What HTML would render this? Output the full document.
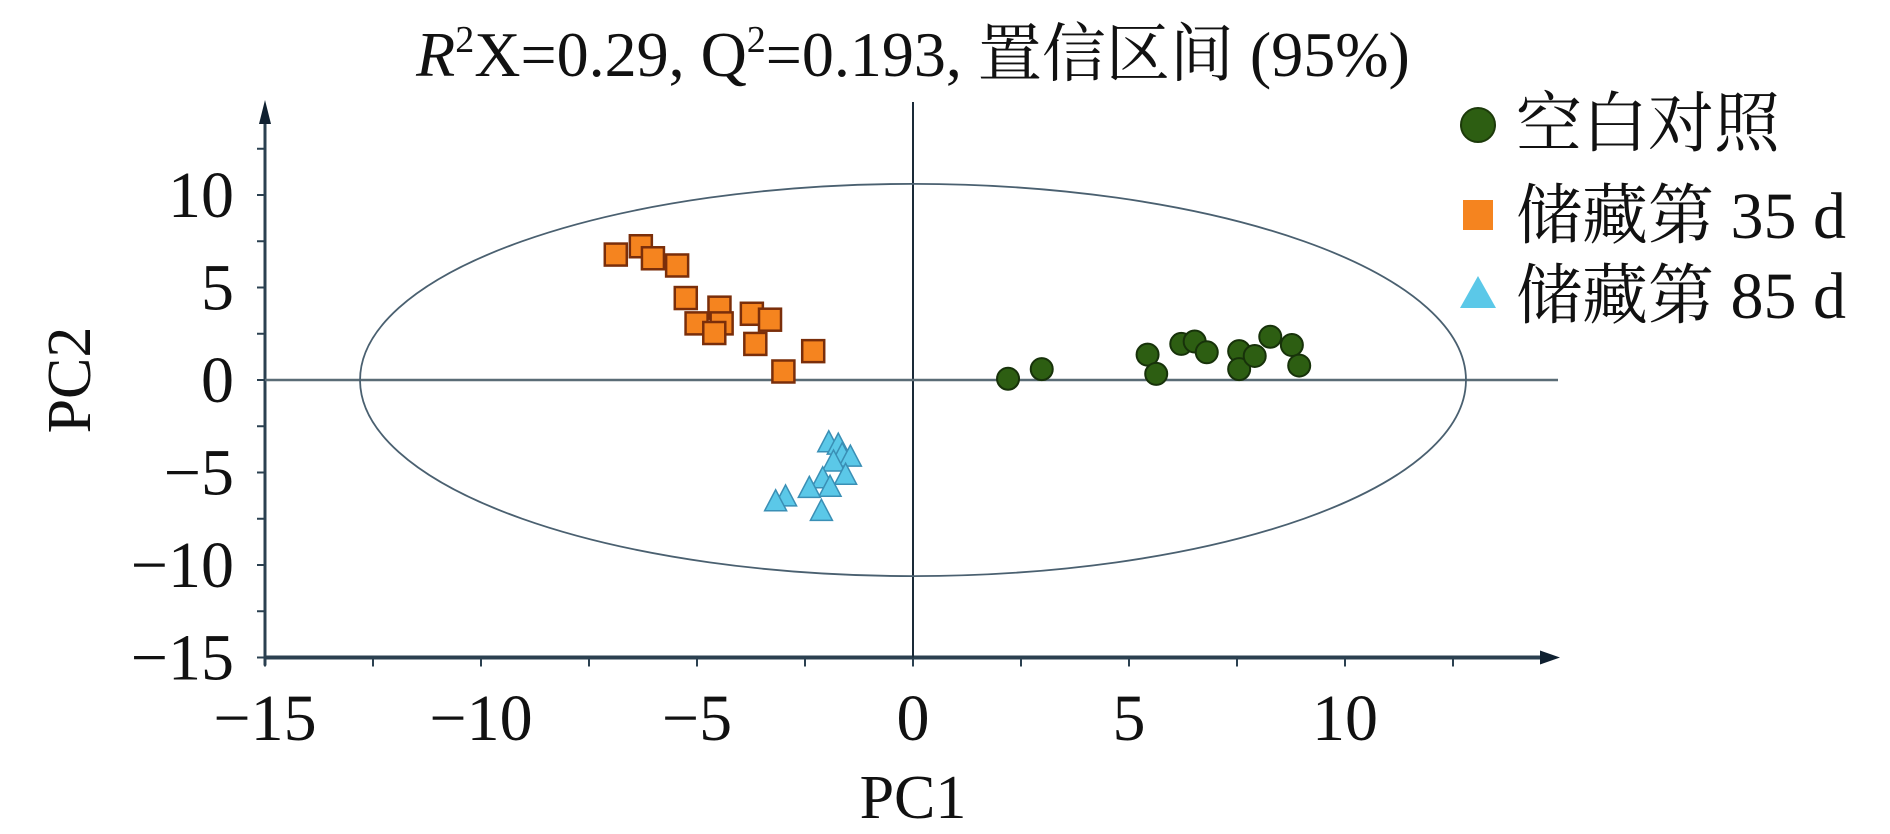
<!DOCTYPE html>
<html><head><meta charset="utf-8"><style>
html,body{margin:0;padding:0;background:#fff;}
svg{display:block;font-family:"Liberation Serif","Noto Serif CJK SC",serif;}
</style></head><body>
<svg id="chart" width="1890" height="834" viewBox="0 0 1890 834" xmlns="http://www.w3.org/2000/svg">
<text x="913" y="76" font-size="64" text-anchor="middle" fill="#111"><tspan font-style="italic">R</tspan><tspan font-size="38" dy="-24">2</tspan><tspan dy="24">X=0.29, Q</tspan><tspan font-size="38" dy="-24">2</tspan><tspan dy="24">=0.193, 置信区间 (95%)</tspan></text>
<g id="axes"></g>
<g id="marks"></g>
<g font-size="66" fill="#111">
<circle cx="1478" cy="125" r="17" fill="#2d5e12" stroke="#1c3a0a" stroke-width="2"/>
<text x="1516" y="146">空白对照</text>
<rect x="1463" y="200" width="30" height="30" fill="#f5841f"/>
<text x="1516" y="238">储藏第 35 d</text>
<polygon points="1478,276 1496,308 1460,308" fill="#5bc8e8"/>
<text x="1516" y="318">储藏第 85 d</text>
</g>
</svg>
<script>
const xTicks=[-15,-10,-5,0,5,10];
const yTicks=[-15,-10,-5,0,5,10];
const ctrlX=[2.2,2.98,5.43,5.63,6.21,6.52,6.8,7.55,7.55,7.91,8.27,8.77,8.94];
const ctrlY=[0.07,0.59,1.37,0.33,1.95,2.08,1.5,1.56,0.59,1.3,2.34,1.89,0.78];
const d35X=[-6.88,-6.3,-6.02,-5.46,-5.26,-4.48,-4.43,-5.01,-4.6,-3.73,-3.31,-3.65,-3.0,-2.31];
const d35Y=[6.78,7.23,6.58,6.19,4.43,3.91,3.06,3.06,2.54,3.58,3.26,1.95,0.46,1.56];
const d85X=[-1.95,-1.73,-1.64,-1.45,-1.84,-1.56,-2.09,-1.92,-2.4,-2.95,-3.18,-2.12];
const d85Y=[-3.39,-3.52,-4.04,-4.17,-4.43,-5.15,-5.34,-5.8,-5.86,-6.32,-6.58,-7.1];
const ellipseR=[12.8,10.6];

const NS="http://www.w3.org/2000/svg";
const sx=v=>913+v*43.2, sy=v=>380-v*18.5;
function mk(tag,attrs,parent){const e=document.createElementNS(NS,tag);for(const k in attrs)e.setAttribute(k,attrs[k]);parent.appendChild(e);return e;}
const ax=document.getElementById('axes'), mg=document.getElementById('marks');
const axc="#2b4050";
let e;
e=mk('line',{x1:sx(-15),y1:sy(-15),x2:1545,y2:sy(-15),stroke:axc,'stroke-width':4},ax);


e=mk('polygon',{points:`1560,${sy(-15)} 1540,${sy(-15)-7} 1540,${sy(-15)+7}`,fill:'#0f2030'},ax);


e=mk('line',{x1:sx(-15),y1:sy(-15)+8,x2:sx(-15),y2:118,stroke:axc,'stroke-width':3},ax);


e=mk('polygon',{points:`${sx(-15)},100 ${sx(-15)-6},124 ${sx(-15)+6},124`,fill:'#0f2030'},ax);


e=mk('line',{x1:sx(0),y1:102,x2:sx(0),y2:sy(-15),stroke:'#1a2a38','stroke-width':2},ax);


e=mk('line',{x1:sx(-15),y1:sy(0),x2:1558,y2:sy(0),stroke:'#5a6c76','stroke-width':2.5},ax);


e=mk('ellipse',{cx:sx(0),cy:sy(0),rx:ellipseR[0]*43.2,ry:ellipseR[1]*18.5,fill:'none',stroke:'#4a6070','stroke-width':1.8},ax);


for(let v=-15;v<=12.5;v+=2.5){
 e=mk('line',{x1:sx(v),y1:sy(-15),x2:sx(v),y2:sy(-15)+9,stroke:axc,'stroke-width':2},ax);
 
 
}
for(let v=-15;v<=12.5;v+=2.5){
 e=mk('line',{x1:sx(-15)-8,y1:sy(v),x2:sx(-15),y2:sy(v),stroke:axc,'stroke-width':2},ax);
 
 
}
xTicks.forEach(v=>{
 e=mk('text',{x:sx(v),y:740,'font-size':66,'text-anchor':'middle',fill:'#111'},ax);
 e.textContent=(v<0?'\u2212'+(-v):v);
 
 
});
yTicks.forEach(v=>{
 e=mk('text',{x:234,y:sy(v)+22,'font-size':66,'text-anchor':'end',fill:'#111'},ax);
 e.textContent=(v<0?'\u2212'+(-v):v);
 
 
});
e=mk('text',{x:913,y:818,'font-size':62,'text-anchor':'middle',fill:'#111'},ax);
e.textContent='PC1';


e=mk('text',{x:0,y:0,'font-size':62,'text-anchor':'middle',fill:'#111',transform:'translate(90,380) rotate(-90)'},ax);
e.textContent='PC2';



d35X.forEach((x,i)=>{
 e=mk('rect',{x:sx(x)-11,y:sy(d35Y[i])-11,width:22,height:22,fill:'#f5841f',stroke:'#7a2e0a','stroke-width':2.5},mg);
 
 
});
ctrlX.forEach((x,i)=>{
 e=mk('circle',{cx:sx(x),cy:sy(ctrlY[i]),r:11,fill:'#2d5e12',stroke:'#17320a','stroke-width':2},mg);
 
 
});
d85X.forEach((x,i)=>{
 const cx=sx(x),cy=sy(d85Y[i]);
 e=mk('polygon',{points:`${cx},${cy-12} ${cx+11},${cy+9} ${cx-11},${cy+9}`,fill:'#5bc8e8',stroke:'#3a8fb5','stroke-width':1.5},mg);
 
 
});
</script>
</body></html>
